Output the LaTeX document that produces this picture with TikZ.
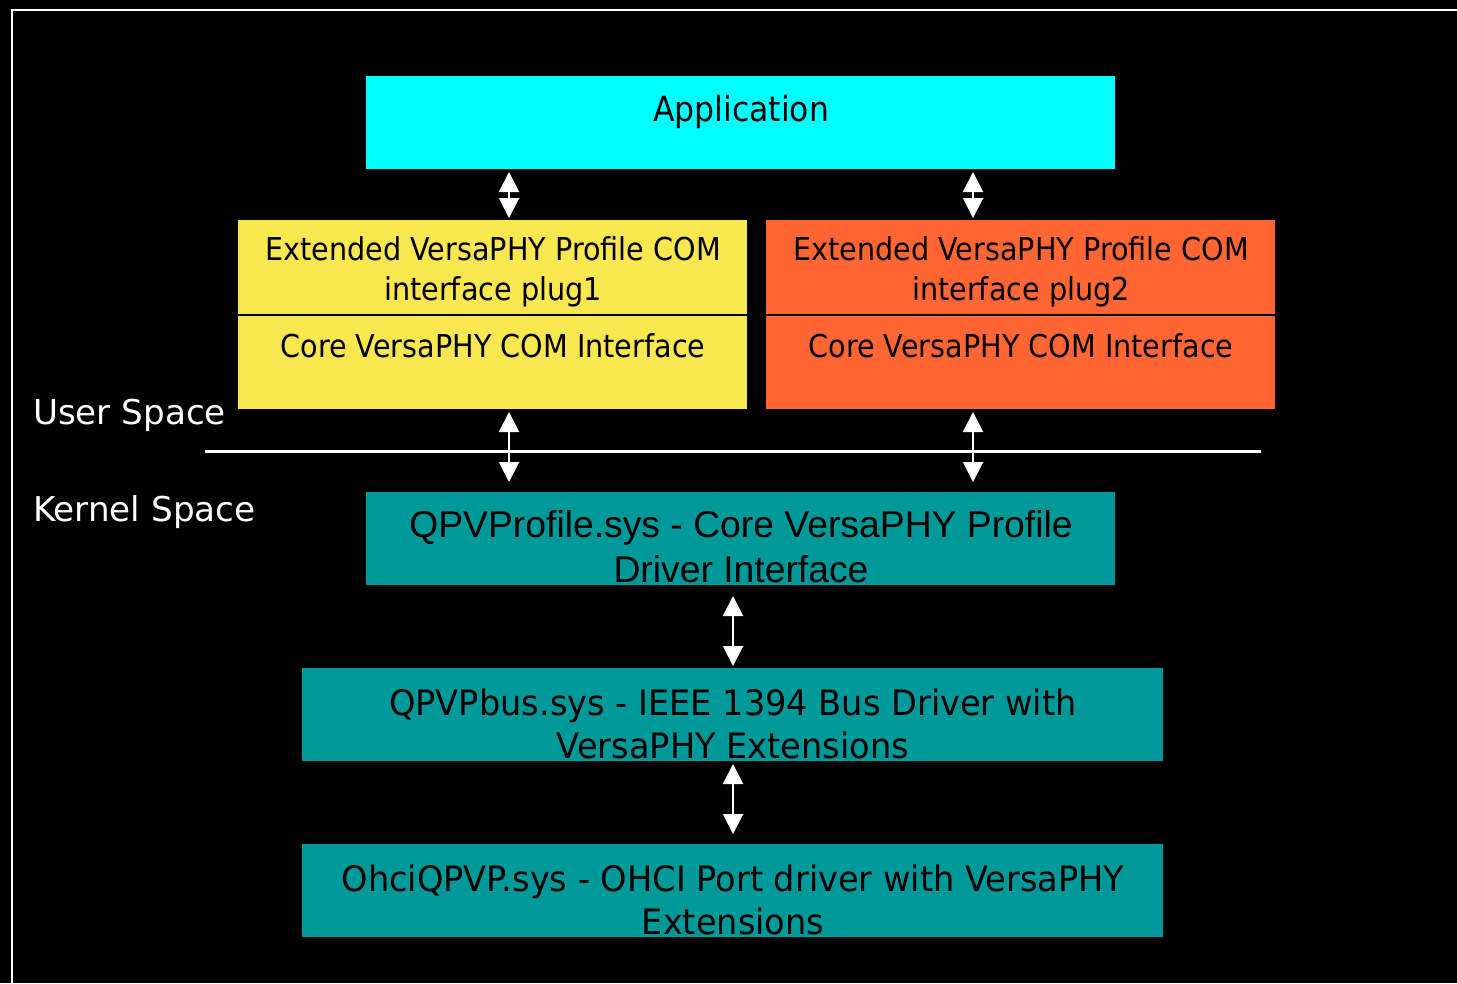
\documentclass[tikz,border=0pt]{standalone}
\usepackage{fontspec}
\setmainfont{DejaVu Sans}
\newfontfamily\tah[FakeStretch=0.91]{DejaVu Sans}
\newfontfamily\tahw[FakeStretch=0.96]{DejaVu Sans}
\newfontfamily\ari{Liberation Sans}
\usetikzlibrary{arrows.meta}
\definecolor{appcyan}{HTML}{00FFFF}
\definecolor{plugyellow}{HTML}{F9E74F}
\definecolor{plugorange}{HTML}{FF6633}
\definecolor{drvteal}{HTML}{009999}
\begin{document}
\begin{tikzpicture}[x=1pt,y=-1pt,
  box/.style={fill=#1, draw=none, inner sep=0pt, outer sep=0pt, anchor=north west},
  txt/.style={inner sep=0pt, outer sep=0pt, text=black},
  lbl/.style={inner sep=0pt, outer sep=0pt, text=white, anchor=base west, font=\fontsize{34.2}{41}\selectfont},
  dbl/.style={white, line width=2pt, {Triangle[width=20pt,length=20pt]}-{Triangle[width=20pt,length=20pt]}},
  divider/.style={black, line width=2pt},
  frame/.style={white, line width=2pt},
  sepline/.style={white, line width=3pt}]
\useasboundingbox (0,0) rectangle (1457,983);
\fill[black] (0,0) rectangle (1457,983);
\draw[frame] (12,983) -- (12,10) -- (1457,10);

% boxes
\node[box=appcyan, minimum width=749, minimum height=93] (app) at (366,76) {};
\node[box=plugyellow, minimum width=509, minimum height=95] (yelTop) at (238,220) {};
\node[box=plugyellow, minimum width=509, minimum height=94] (yelBot) at (238,315) {};
\node[box=plugorange, minimum width=509, minimum height=95] (orgTop) at (766,220) {};
\node[box=plugorange, minimum width=509, minimum height=94] (orgBot) at (766,315) {};
\node[box=drvteal, minimum width=749, minimum height=93] (prof) at (366,492) {};
\node[box=drvteal, minimum width=861, minimum height=93] (bus) at (302,668) {};
\node[box=drvteal, minimum width=861, minimum height=93] (ohci) at (302,844) {};

\draw[divider] (yelTop.south west) -- (yelTop.south east);
\draw[divider] (orgTop.south west) -- (orgTop.south east);

% texts
\node[txt, anchor=base, font=\tah\fontsize{34.6}{41}\selectfont] (apptxt) at (741,121) {Application};
\node[txt, anchor=north, align=center, font=\tah\fontsize{31.5}{40}\selectfont] (yeltxt) at (493,237) {Extended VersaPHY Profile COM\\interface plug1};
\node[txt, anchor=base, font=\tah\fontsize{31.5}{38}\selectfont] (yelcore) at (493,357) {Core VersaPHY COM Interface};
\node[txt, anchor=north, align=center, font=\tah\fontsize{31.5}{40}\selectfont] (orgtxt) at (1021,237) {Extended VersaPHY Profile COM\\interface plug2};
\node[txt, anchor=base, font=\tah\fontsize{31.5}{38}\selectfont] (orgcore) at (1021,357) {Core VersaPHY COM Interface};
\node[txt, anchor=north, align=center, font=\ari\fontsize{37.3}{45}\selectfont] (proftxt) at (741,510) {QPVProfile.sys - Core VersaPHY Profile\\Driver Interface};
\node[txt, anchor=north, align=center, font=\tahw\fontsize{35}{43}\selectfont] (bustxt) at (733,688.5) {QPVPbus.sys - IEEE 1394 Bus Driver with\\VersaPHY Extensions};
\node[txt, anchor=north, align=center, font=\tahw\fontsize{35}{43}\selectfont] (ohcitxt) at (733,864.5) {OhciQPVP.sys - OHCI Port driver with VersaPHY\\Extensions};

% space labels
\node[lbl] (user) at (33,424) {User Space};
\node[lbl] (kernel) at (33,521) {Kernel Space};
\coordinate (sepL) at (205,451);
\coordinate (sepR) at (1261,451);
\draw[sepline] (sepL) -- (sepR);

% arrows
\coordinate (a1) at (509,0);
\coordinate (a2) at (973,0);
\coordinate (a3) at (733,0);
\draw[dbl, shorten <=3pt, shorten >=2pt] (app.south -| a1) -- (yelTop.north -| a1);
\draw[dbl, shorten <=3pt, shorten >=2pt] (app.south -| a2) -- (orgTop.north -| a2);
\draw[dbl, shorten <=3pt, shorten >=10pt] (yelBot.south -| a1) -- (prof.north -| a1);
\draw[dbl, shorten <=3pt, shorten >=10pt] (orgBot.south -| a2) -- (prof.north -| a2);
\draw[dbl, shorten <=11pt, shorten >=2pt] (prof.south -| a3) -- (bus.north -| a3);
\draw[dbl, shorten <=3pt, shorten >=10pt] (bus.south -| a3) -- (ohci.north -| a3);
\end{tikzpicture}
\end{document}
